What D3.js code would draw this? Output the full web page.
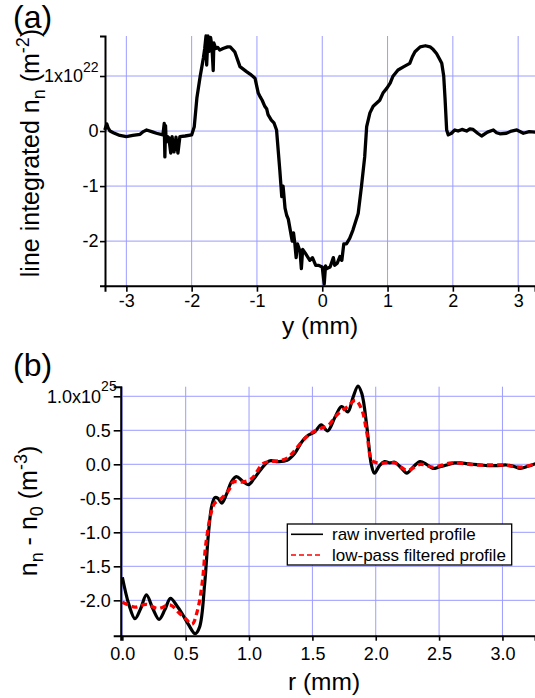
<!DOCTYPE html>
<html>
<head>
<meta charset="utf-8">
<script src="https://cdn.jsdelivr.net/npm/d3@7"></script>
<style>
body { margin: 0; background: #fff; }
text { font-family: "Liberation Sans", Arial, sans-serif; fill: #000; }
</style>
</head>
<body>
<div id="chart"></div>
<script>
// panel (a): line integrated density (units of 1e22 m^-2) against y (mm)
var yPos = [-3.33,-3.30,-3.28,-3.25,-3.2,-3.1,-3.0,-2.9,-2.79,-2.74,-2.69,-2.59,-2.54,-2.44,-2.42,-2.41,-2.40,-2.39,-2.37,-2.35,-2.32,-2.30,-2.27,-2.24,-2.21,-2.18,-2.1,-2.0,-1.96,-1.92,-1.87,-1.82,-1.80,-1.78,-1.77,-1.75,-1.73,-1.71,-1.69,-1.67,-1.66,-1.63,-1.60,-1.57,-1.52,-1.45,-1.41,-1.34,-1.26,-1.16,-1.10,-1.03,-1.0,-0.98,-0.95,-0.92,-0.88,-0.85,-0.83,-0.78,-0.74,-0.70,-0.65,-0.62,-0.60,-0.57,-0.545,-0.52,-0.49,-0.46,-0.44,-0.42,-0.40,-0.38,-0.34,-0.32,-0.30,-0.26,-0.19,-0.15,-0.10,-0.06,0.0,0.03,0.05,0.07,0.12,0.17,0.19,0.23,0.27,0.30,0.33,0.37,0.42,0.47,0.55,0.60,0.65,0.68,0.73,0.78,0.88,0.93,0.99,1.04,1.08,1.16,1.25,1.34,1.38,1.42,1.50,1.58,1.65,1.70,1.75,1.80,1.83,1.86,1.88,1.905,1.93,1.98,2.03,2.08,2.14,2.21,2.26,2.31,2.38,2.44,2.53,2.62,2.67,2.72,2.82,2.90,2.98,3.08,3.17,3.26];
var nLine = [0.02,0.13,0.06,0.0,-0.03,-0.08,-0.1,-0.08,-0.06,-0.01,0.02,-0.02,-0.04,-0.07,0.14,-0.47,0.1,-0.2,-0.1,-0.12,-0.4,-0.1,-0.38,-0.11,-0.4,-0.1,-0.09,-0.07,0.08,0.6,0.99,1.33,1.5,1.73,1.2,1.73,1.45,1.7,1.55,1.1,1.6,1.5,1.52,1.47,1.5,1.53,1.53,1.44,1.17,1.08,1.03,0.96,0.8,0.69,0.62,0.56,0.45,0.4,0.3,0.2,0.15,0.02,-0.71,-1.19,-1.0,-1.4,-1.53,-1.6,-1.8,-2.0,-1.85,-2.04,-2.3,-2.05,-2.19,-2.5,-2.15,-2.22,-2.35,-2.3,-2.44,-2.44,-2.47,-2.78,-2.45,-2.5,-2.47,-2.3,-2.44,-2.4,-2.28,-2.35,-2.05,-2.05,-1.95,-1.8,-1.5,-1.01,-0.47,0.08,0.33,0.45,0.56,0.69,0.78,0.87,0.99,1.11,1.17,1.23,1.35,1.44,1.53,1.55,1.53,1.48,1.41,1.3,1.23,1.0,0.6,0.02,-0.07,-0.04,0.02,0.0,0.03,0.0,0.04,0.03,-0.04,-0.09,-0.02,0.02,-0.03,-0.05,-0.04,0.0,0.02,-0.04,-0.01,-0.02];
var aTicksX = [-3, -2, -1, 0, 1, 2, 3];
var aTicksY = [-2, -1, 0, 1];

// panel (b): n_n - n_0 (units of 1e25 m^-3) against r (mm)
var rRaw = [0.00,0.05,0.10,0.145,0.19,0.24,0.29,0.335,0.38,0.43,0.47,0.52,0.575,0.61,0.65,0.68,0.705,0.73,0.755,0.785,0.82,0.86,0.90,0.95,0.995,1.04,1.10,1.16,1.23,1.30,1.36,1.42,1.47,1.52,1.57,1.62,1.68,1.73,1.78,1.82,1.86,1.89,1.93,1.965,1.99,2.03,2.07,2.11,2.15,2.20,2.245,2.30,2.35,2.40,2.45,2.50,2.56,2.62,2.67,2.72,2.77,2.83,2.88,2.95,3.03,3.09,3.14,3.20,3.26];
var nRaw = [-1.66,-2.05,-2.27,-2.12,-1.92,-2.12,-2.28,-2.14,-1.97,-2.08,-2.19,-2.35,-2.49,-2.39,-1.75,-1.01,-0.62,-0.49,-0.5,-0.57,-0.45,-0.26,-0.18,-0.25,-0.30,-0.21,-0.06,0.05,0.04,0.06,0.16,0.34,0.43,0.48,0.58,0.49,0.70,0.85,0.77,0.98,1.15,1.04,0.55,0.0,-0.13,-0.02,0.04,0.02,0.03,-0.05,-0.13,-0.03,0.04,0.0,-0.06,-0.04,-0.01,0.02,0.02,0.01,0.0,-0.01,-0.02,-0.02,-0.01,-0.03,-0.06,-0.03,0.01];
var rFilt = [0.00,0.05,0.10,0.19,0.28,0.38,0.45,0.50,0.55,0.59,0.63,0.66,0.70,0.73,0.77,0.84,0.875,0.95,1.02,1.11,1.17,1.23,1.30,1.34,1.44,1.50,1.57,1.63,1.68,1.74,1.78,1.84,1.89,1.93,1.97,2.02,2.08,2.15,2.25,2.35,2.45,2.60,2.80,3.00,3.15,3.26];
var nFilt = [-2.03,-2.07,-2.10,-2.06,-2.12,-2.07,-2.19,-2.27,-2.35,-2.17,-1.75,-1.16,-0.72,-0.57,-0.52,-0.38,-0.26,-0.26,-0.21,0.01,0.04,0.05,0.09,0.16,0.38,0.47,0.53,0.58,0.70,0.80,0.85,0.94,0.80,0.46,0.06,0.02,0.02,0.02,-0.09,0.0,-0.04,0.02,-0.01,-0.01,-0.04,0.01];
var bTicksX = [0, 0.5, 1, 1.5, 2, 2.5, 3];
var bTicksY = [-2, -1.5, -1, -0.5, 0, 0.5, 1];
var legendNames = ["raw inverted profile", "low-pass filtered profile"];

var W = 535, H = 698;
var gridColor = "#9c9cff";

var svg = d3.select("#chart")
    .append("svg")
    .attr("width", W)
    .attr("height", H);

// ---------- panel (a) ----------
var a = {left: 105, right: 535, top: 36, bottom: 285.7};
var xa = d3.scaleLinear().domain([-3.327, 3.258]).range([a.left, a.right]);
var ya = d3.scaleLinear().domain([-2.81, 1.727]).range([a.bottom, a.top]);

// grid
svg.append("g").selectAll("line").data(aTicksX).enter().append("line")
    .attr("x1", d => xa(d)).attr("x2", d => xa(d))
    .attr("y1", a.top).attr("y2", a.bottom)
    .style("stroke", gridColor).style("stroke-width", 1);
svg.append("g").selectAll("line").data(aTicksY).enter().append("line")
    .attr("x1", a.left).attr("x2", a.right)
    .attr("y1", d => ya(d)).attr("y2", d => ya(d))
    .style("stroke", gridColor).style("stroke-width", 1);

// curve
svg.append("path")
    .datum(d3.range(yPos.length))
    .attr("d", d3.line().x(i => xa(yPos[i])).y(i => ya(nLine[i])))
    .style("fill", "none")
    .style("stroke", "#000")
    .style("stroke-width", 3.3)
    .style("stroke-linejoin", "round");

// axes
var axA_x = svg.append("g")
    .attr("transform", "translate(0," + a.bottom + ")")
    .call(d3.axisBottom(xa).tickValues(aTicksX).tickSize(6).tickPadding(3).tickFormat(d => String(d).replace("−", "-")));
var axA_y = svg.append("g")
    .attr("transform", "translate(" + a.left + ",0)")
    .call(d3.axisLeft(ya).tickValues(aTicksY).tickSize(5).tickPadding(1.5).tickFormat(d => String(d).replace("−", "-")));

// "1x10^22"
axA_y.selectAll(".tick text").filter(d => d === 1).each(function() {
    var t = d3.select(this).text("");
    t.append("tspan").text("1x10");
    t.append("tspan").attr("dy", -10).style("font-size", "14px").text("22");
});

// ---------- panel (b) ----------
var b = {left: 120.7, right: 535, top: 386.7, bottom: 635.7};
var xb = d3.scaleLinear().domain([-0.013, 3.257]).range([b.left, b.right]);
var yb = d3.scaleLinear().domain([-2.52, 1.141]).range([b.bottom, b.top]);

svg.append("g").selectAll("line").data(bTicksX).enter().append("line")
    .attr("x1", d => xb(d)).attr("x2", d => xb(d))
    .attr("y1", b.top).attr("y2", b.bottom)
    .style("stroke", gridColor).style("stroke-width", 1);
svg.append("g").selectAll("line").data(bTicksY).enter().append("line")
    .attr("x1", b.left).attr("x2", b.right)
    .attr("y1", d => yb(d)).attr("y2", d => yb(d))
    .style("stroke", gridColor).style("stroke-width", 1);

var smooth = d3.curveCatmullRom.alpha(0.5);
svg.append("path")
    .datum(d3.range(rRaw.length))
    .attr("d", d3.line().curve(smooth).x(i => xb(rRaw[i])).y(i => yb(nRaw[i])))
    .style("fill", "none")
    .style("stroke", "#000")
    .style("stroke-width", 3.2);
svg.append("path")
    .datum(d3.range(rFilt.length))
    .attr("d", d3.line().curve(smooth).x(i => xb(rFilt[i])).y(i => yb(nFilt[i])))
    .style("fill", "none")
    .style("stroke", "#ff0000")
    .style("stroke-width", 3.3)
    .style("stroke-dasharray", "6,4");

var axB_x = svg.append("g")
    .attr("transform", "translate(0," + b.bottom + ")")
    .call(d3.axisBottom(xb).tickValues(bTicksX).tickSize(5).tickPadding(6.5).tickFormat(d3.format(".1f")));
var axB_y = svg.append("g")
    .attr("transform", "translate(" + b.left + ",0)")
    .call(d3.axisLeft(yb).tickValues(bTicksY).tickSize(7).tickPadding(3).tickFormat(d => d3.format(".1f")(d).replace("−", "-")));

axB_y.selectAll(".tick text").filter(d => d === 1).each(function() {
    var t = d3.select(this).text("").attr("x", -4);
    t.append("tspan").text("1.0x10");
    t.append("tspan").attr("dy", -12).style("font-size", "14px").text("25");
});

// shared axis styling
svg.selectAll(".domain").style("stroke", "#000").style("stroke-width", 2);
svg.selectAll(".tick line").style("stroke", "#000").style("stroke-width", 1.6);
svg.selectAll(".tick text")
    .style("font-family", '"Liberation Sans", Arial, sans-serif')
    .style("font-size", "18px")
    .style("fill", "#000");

// legend
var lg = svg.append("g");
lg.append("rect")
    .attr("x", 287.3).attr("y", 524)
    .attr("width", 224.4).attr("height", 41)
    .style("fill", "#fff").style("stroke", "#000").style("stroke-width", 1.3);
lg.append("line").attr("x1", 291).attr("x2", 323).attr("y1", 534.3).attr("y2", 534.3)
    .style("stroke", "#000").style("stroke-width", 1.6);
lg.append("line").attr("x1", 291).attr("x2", 323).attr("y1", 555).attr("y2", 555)
    .style("stroke", "#ff0000").style("stroke-width", 1.6).style("stroke-dasharray", "5,3");
lg.selectAll("text").data(legendNames).enter().append("text")
    .attr("x", 332).attr("y", (d, i) => 540 + i * 20.5)
    .style("font-size", "17px")
    .text(d => d);

// titles
svg.append("text").attr("x", 13).attr("y", 28).style("font-size", "32px").text("(a)");
svg.append("text").attr("x", 13).attr("y", 376).style("font-size", "32px").text("(b)");

svg.append("text")
    .attr("x", (a.left + a.right) / 2).attr("y", 334)
    .style("text-anchor", "middle").style("font-size", "24.5px")
    .text("y (mm)");
svg.append("text")
    .attr("x", 324).attr("y", 690)
    .style("text-anchor", "middle").style("font-size", "24.5px")
    .text("r (mm)");

var ytA = svg.append("text")
    .attr("transform", "translate(39,153) rotate(-90)")
    .style("text-anchor", "middle").style("font-size", "25px");
ytA.append("tspan").text("line integrated n");
ytA.append("tspan").attr("dy", 6).style("font-size", "18px").text("n");
ytA.append("tspan").attr("dy", -6).text(" (m");
ytA.append("tspan").attr("dy", -10).style("font-size", "18px").text("-2");
ytA.append("tspan").attr("dy", 10).text(")");

var ytB = svg.append("text")
    .attr("transform", "translate(37,511) rotate(-90)")
    .style("text-anchor", "middle").style("font-size", "25px");
ytB.append("tspan").text("n");
ytB.append("tspan").attr("dy", 6).style("font-size", "18px").text("n");
ytB.append("tspan").attr("dy", -6).text(" - n");
ytB.append("tspan").attr("dy", 6).style("font-size", "18px").text("0");
ytB.append("tspan").attr("dy", -6).text(" (m");
ytB.append("tspan").attr("dy", -10).style("font-size", "18px").text("-3");
ytB.append("tspan").attr("dy", 10).text(")");
</script>
</body>
</html>
